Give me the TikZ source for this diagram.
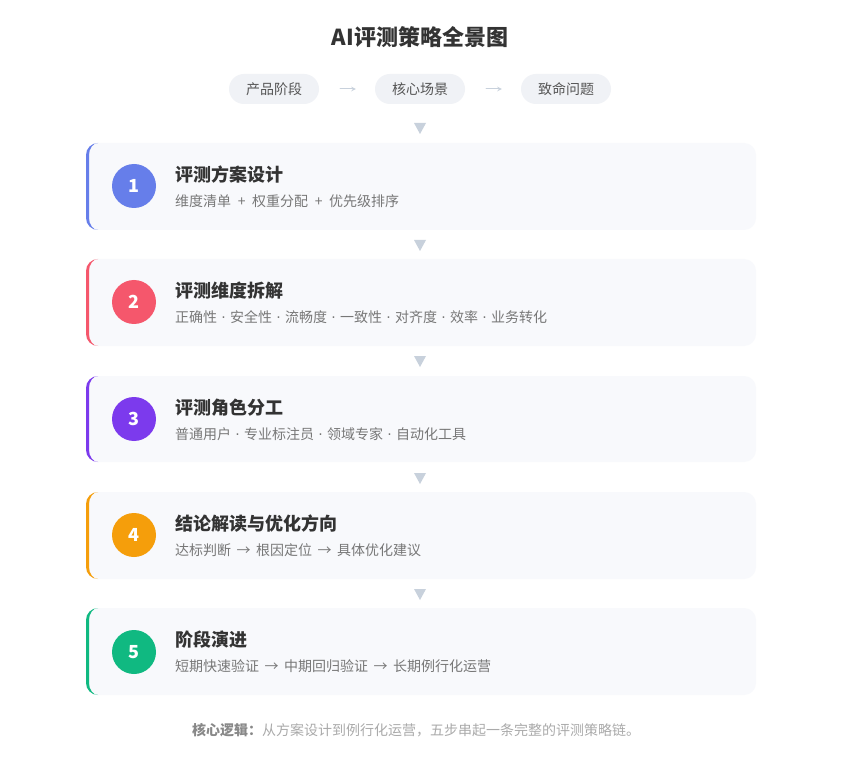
\documentclass[tikz,border=0pt]{standalone}
\usepackage{fontspec}
\setmainfont{Noto Sans CJK SC}
\newfontfamily\symfont{DejaVu Sans}
\usetikzlibrary{positioning}
\definecolor{titlegray}{HTML}{333333}
\definecolor{subgray}{HTML}{777777}
\definecolor{pillfill}{HTML}{F0F2F6}
\definecolor{pilltext}{HTML}{555555}
\definecolor{cardfill}{HTML}{F8F9FC}
\definecolor{arrowgray}{HTML}{C8D1DC}
\definecolor{stepone}{HTML}{667EEA}
\definecolor{steptwo}{HTML}{F5576C}
\definecolor{stepthree}{HTML}{7C3AED}
\definecolor{stepfour}{HTML}{F59E0B}
\definecolor{stepfive}{HTML}{10B981}
\definecolor{footbold}{HTML}{888888}
\definecolor{footlight}{HTML}{AAAAAA}
\newcommand{\sepdot}{\makebox[13pt]{\symfont ·}}
\newcommand{\sepplus}{\makebox[21pt]{+}}
\newcommand{\separr}{\makebox[25pt]{→}}
% coloured left edge of a card: colour, top, straight height
\newcommand{\stripe}[3]{\fill[#1] (98,#2) arc[start angle=270,end angle=180,radius=12]
  -- ++(0,#3) arc[start angle=180,end angle=90,radius=12]
  arc[start angle=90,end angle=180,x radius=9,y radius=12]
  -- ++(0,-#3) arc[start angle=180,end angle=270,x radius=9,y radius=12] -- cycle;}

\tikzset{
  pill/.style={fill=pillfill,rounded corners=15pt,minimum width=90pt,minimum height=30pt,
    inner sep=0pt,text=pilltext,font=\fontsize{14}{16}\selectfont},
  flowarrow/.style={->,>=stealth,color=arrowgray,line width=1pt,shorten >=19pt,shorten <=21pt},
  cardbox/.style={fill=cardfill,rounded corners=12pt},
  stepnum/.style={circle,minimum size=44pt,inner sep=0pt,text=white,
    font=\fontsize{18}{20}\selectfont\bfseries},
  cardtitle/.style={anchor=west,inner sep=0pt,text=titlegray,font=\fontsize{18}{20}\selectfont\bfseries},
  cardsub/.style={anchor=west,inner sep=0pt,text=subgray,font=\fontsize{14}{16}\selectfont},
  downtri/.style={fill=arrowgray}
}

\begin{document}
\begin{tikzpicture}[x=1pt,y=-1pt,line cap=round,line join=round]
  \useasboundingbox[fill=white] (0,0) rectangle (846,759);
  % title
  \node[text=titlegray,font=\fontsize{22}{26}\selectfont\bfseries] (title) at (420,37) {AI评测策略全景图};
  % flow of pills
  \node[pill] (stage) at (274,89) {产品阶段};
  \node[pill] (scene) at (420,89) {核心场景};
  \node[pill] (issue) at (566,89) {致命问题};
  \draw[flowarrow] (stage) -- (scene);
  \draw[flowarrow] (scene) -- (issue);
  \fill[downtri] (414,123) -- (426,123) -- (420,134) -- cycle;
  % step 1
  \fill[cardbox] (86,143) rectangle (756,230);
  \stripe{stepone}{143}{63}
  \node[stepnum,fill=stepone] (s1) at (134,186) {1};
  \node[cardtitle] (s1t) at (175,175) {评测方案设计};
  \node[cardsub] (s1s) at (175,201) {维度清单\sepplus 权重分配\sepplus 优先级排序};
  \fill[downtri] (414,240) -- (426,240) -- (420,251) -- cycle;
  % step 2
  \fill[cardbox] (86,259) rectangle (756,346);
  \stripe{steptwo}{259}{63}
  \node[stepnum,fill=steptwo] (s2) at (134,302) {2};
  \node[cardtitle] (s2t) at (175,291) {评测维度拆解};
  \node[cardsub] (s2s) at (175,317) {正确性\sepdot 安全性\sepdot 流畅度\sepdot 一致性\sepdot 对齐度\sepdot 效率\sepdot 业务转化};
  \fill[downtri] (414,356) -- (426,356) -- (420,367) -- cycle;
  % step 3
  \fill[cardbox] (86,376) rectangle (756,462);
  \stripe{stepthree}{376}{62}
  \node[stepnum,fill=stepthree] (s3) at (134,419) {3};
  \node[cardtitle] (s3t) at (175,408) {评测角色分工};
  \node[cardsub] (s3s) at (175,434) {普通用户\sepdot 专业标注员\sepdot 领域专家\sepdot 自动化工具};
  \fill[downtri] (414,473) -- (426,473) -- (420,484) -- cycle;
  % step 4
  \fill[cardbox] (86,492) rectangle (756,579);
  \stripe{stepfour}{492}{63}
  \node[stepnum,fill=stepfour] (s4) at (134,535) {4};
  \node[cardtitle] (s4t) at (175,524) {结论解读与优化方向};
  \node[cardsub] (s4s) at (175,550) {达标判断\separr 根因定位\separr 具体优化建议};
  \fill[downtri] (414,589) -- (426,589) -- (420,600) -- cycle;
  % step 5
  \fill[cardbox] (86,608) rectangle (756,695);
  \stripe{stepfive}{608}{63}
  \node[stepnum,fill=stepfive] (s5) at (134,652) {5};
  \node[cardtitle] (s5t) at (175,640) {阶段演进};
  \node[cardsub] (s5s) at (175,666) {短期快速验证\separr 中期回归验证\separr 长期例行化运营};
  % footer
  \node[font=\fontsize{14}{16}\selectfont] (foot) at (416,730)
    {\textcolor{footbold}{\bfseries 核心逻辑：}\textcolor{footlight}{从方案设计到例行化运营，五步串起一条完整的评测策略链。}};
\end{tikzpicture}
\end{document}
